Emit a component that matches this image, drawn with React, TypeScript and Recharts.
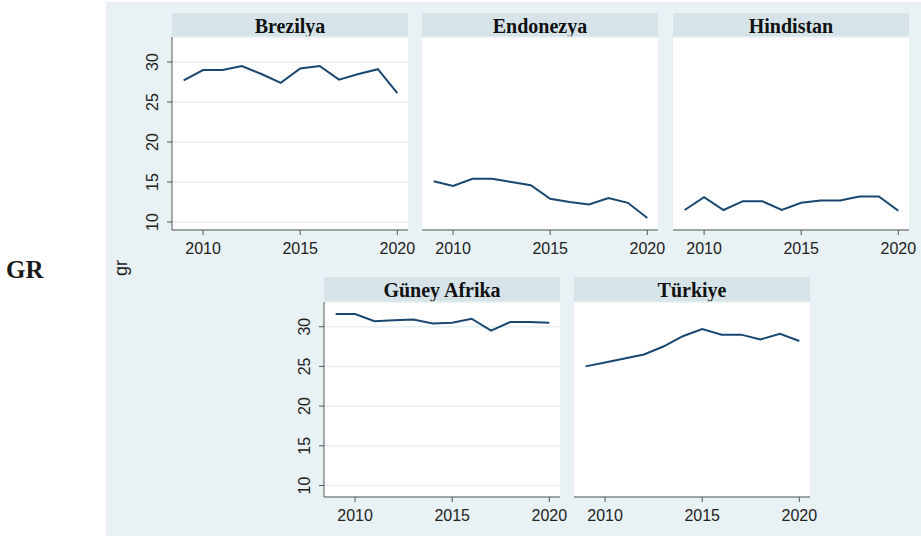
import React from "react";
import { LineChart, Line, XAxis, YAxis, CartesianGrid } from "recharts";

// ---------------------------------------------------------------------------
// Data (gr, 2009-2020)
// ---------------------------------------------------------------------------

const YEARS = [2009, 2010, 2011, 2012, 2013, 2014, 2015, 2016, 2017, 2018, 2019, 2020];
const X_TICKS = [2010, 2015, 2020];
const Y_TICKS = [10, 15, 20, 25, 30];

const BREZILYA = [27.7, 29.0, 29.0, 29.5, 28.5, 27.4, 29.2, 29.5, 27.8, 28.5, 29.1, 26.1];
const ENDONEZYA = [15.1, 14.5, 15.4, 15.4, 15.0, 14.6, 12.9, 12.5, 12.2, 13.0, 12.4, 10.5];
const HINDISTAN = [11.5, 13.1, 11.5, 12.6, 12.6, 11.5, 12.4, 12.7, 12.7, 13.2, 13.2, 11.4];
const GUNEY_AFRIKA = [31.6, 31.6, 30.7, 30.8, 30.9, 30.4, 30.5, 31.0, 29.5, 30.6, 30.6, 30.5];
const TURKIYE = [25.0, 25.5, 26.0, 26.5, 27.5, 28.8, 29.7, 29.0, 29.0, 28.4, 29.1, 28.2];

// ---------------------------------------------------------------------------
// Style
// ---------------------------------------------------------------------------

const BG = "#e8f1f3";
const STRIP = "#d6e4ea";
const GRID = "#e6eff2";
const LINE = "#1a476f";
const AXIS = "#555";
const SANS = "'Liberation Sans', Arial, sans-serif";
const SERIF = "'Liberation Serif', 'Times New Roman', serif";

const PLOT_W = 236;
const X_DOMAIN: [number, number] = [2008.4, 2020.55];

const ROWS = [
  { titleTop: 13, plotTop: 37, plotH: 193, domain: [9.0, 33.125] as [number, number] },
  { titleTop: 277, plotTop: 302, plotH: 195, domain: [8.55, 33.11] as [number, number] },
];

const YW = 50;
const TM = 4;
const RM = 26; // room for the "2020" label past the plot edge
const XH = 40;

function RotatedTick(props: any) {
  const { x, y, payload } = props;
  const tx = x - 5;
  return (
    <text
      x={tx}
      y={y}
      transform={`rotate(-90 ${tx} ${y})`}
      textAnchor="middle"
      fontSize={16}
      fontFamily={SANS}
      fill="#222"
    >
      {payload.value}
    </text>
  );
}

interface PanelProps {
  title: string;
  values: number[];
  plotLeft: number;
  row: number;
  showY: boolean;
}

function Panel({ title, values, plotLeft, row, showY }: PanelProps) {
  const cfg = ROWS[row];
  const data = YEARS.map((year, i) => ({ year, gr: values[i] }));
  return (
    <>
      <div
        style={{
          position: "absolute",
          left: plotLeft,
          top: cfg.titleTop,
          width: PLOT_W,
          height: cfg.plotTop - cfg.titleTop,
          lineHeight: `${cfg.plotTop - cfg.titleTop}px`,
          background: STRIP,
          textAlign: "center",
          fontFamily: SERIF,
          fontWeight: "bold",
          fontSize: 20,
          color: "#111",
          paddingTop: 1,
          boxSizing: "border-box",
        }}
      >
        {title}
      </div>
      <div style={{ position: "absolute", left: plotLeft - YW, top: cfg.plotTop - TM }}>
        <LineChart
          width={YW + PLOT_W + RM}
          height={TM + cfg.plotH + XH}
          data={data}
          margin={{ top: TM, right: RM, bottom: 0, left: 0 }}
        >
          <CartesianGrid
            vertical={false}
            stroke={GRID}
            strokeWidth={1.5}
            fill="#ffffff"
            fillOpacity={1}
          />
          <XAxis
            dataKey="year"
            type="number"
            domain={X_DOMAIN}
            ticks={X_TICKS}
            allowDataOverflow
            height={XH}
            tickSize={5}
            tickMargin={8}
            stroke={AXIS}
            tick={{ fontSize: 16, fill: "#222", fontFamily: SANS }}
          />
          <YAxis
            type="number"
            domain={cfg.domain}
            ticks={Y_TICKS}
            allowDataOverflow
            width={YW}
            tickSize={showY ? 5 : 0}
            tickMargin={4}
            axisLine={showY ? { stroke: AXIS } : false}
            tickLine={showY ? { stroke: AXIS } : false}
            tick={showY ? <RotatedTick /> : false}
          />
          <Line
            type="linear"
            dataKey="gr"
            stroke={LINE}
            strokeWidth={2}
            dot={false}
            isAnimationActive={false}
          />
        </LineChart>
      </div>
    </>
  );
}

export default function App() {
  return (
    <div
      style={{
        position: "absolute",
        left: 0,
        top: 0,
        width: 921,
        height: 536,
        background: "#fff",
        overflow: "hidden",
      }}
    >
      <div
        style={{
          position: "absolute",
          left: 106,
          top: 2,
          width: 815,
          height: 534,
          background: BG,
        }}
      />
      <div
        style={{
          position: "absolute",
          left: 6,
          top: 255,
          fontFamily: SERIF,
          fontWeight: "bold",
          fontSize: 25,
          color: "#1a1a1a",
          lineHeight: "30px",
        }}
      >
        GR
      </div>
      <div
        style={{
          position: "absolute",
          left: 101,
          top: 257,
          width: 40,
          height: 22,
          lineHeight: "22px",
          textAlign: "center",
          transform: "rotate(-90deg)",
          fontFamily: SANS,
          fontSize: 18,
          color: "#222",
        }}
      >
        gr
      </div>

      <Panel title="Brezilya" values={BREZILYA} plotLeft={172} row={0} showY />
      <Panel title="Endonezya" values={ENDONEZYA} plotLeft={422} row={0} showY={false} />
      <Panel title="Hindistan" values={HINDISTAN} plotLeft={673} row={0} showY={false} />
      <Panel title="Güney Afrika" values={GUNEY_AFRIKA} plotLeft={324} row={1} showY />
      <Panel title="Türkiye" values={TURKIYE} plotLeft={574} row={1} showY={false} />
    </div>
  );
}
